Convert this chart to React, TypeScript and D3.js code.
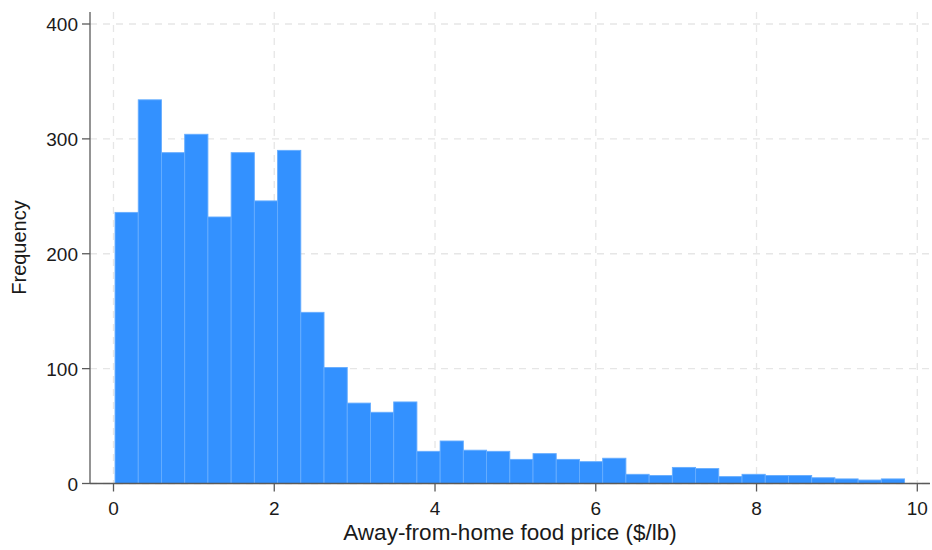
import React from "react";
import * as d3 from "d3";

const counts: number[] = [
  236, 334, 288, 304, 232, 288, 246, 290, 149, 101, 70, 62, 71, 28, 37, 29, 28,
  21, 26, 21, 19, 22, 8, 7, 14, 13, 6, 8, 7, 7, 5, 4, 3, 4,
];
const binStart = 0.019;
const binWidth = 0.2889;
const xTicks: number[] = [0, 2, 4, 6, 8, 10];
const yTicks: number[] = [0, 100, 200, 300, 400];
const xTitle = "Away-from-home food price ($/lb)";
const yTitle = "Frequency";

const W = 932;
const H = 550;
const FONT = "'Liberation Sans', Arial, sans-serif";

export default function App() {
  const x = d3.scaleLinear().domain([0, 10]).range([113.5, 917.3]);
  const y = d3.scaleLinear().domain([0, 400]).range([483.5, 24]);
  const axisX0 = 90;
  const axisColor = "#5a5a5a";
  const bins = counts.map((c, i) => ({
    x0: binStart + i * binWidth,
    x1: binStart + (i + 1) * binWidth,
    c,
  }));
  return (
    <svg
      width={W}
      height={H}
      style={{ position: "absolute", left: 0, top: 0, background: "#fff" }}
      fontFamily={FONT}
    >
      {/* grid */}
      {xTicks.map((t) => (
        <line
          key={"gx" + t}
          x1={x(t)}
          x2={x(t)}
          y1={12}
          y2={483.5}
          stroke="#e6e6e6"
          strokeWidth={1.3}
          strokeDasharray="7,6"
        />
      ))}
      {yTicks.map((t) => (
        <line
          key={"gy" + t}
          x1={axisX0}
          x2={930}
          y1={y(t)}
          y2={y(t)}
          stroke="#e6e6e6"
          strokeWidth={1.3}
          strokeDasharray="7,6"
        />
      ))}
      {/* bars */}
      {bins.map((b, i) => (
        <rect
          key={i}
          x={x(b.x0)}
          y={y(b.c)}
          width={x(b.x1) - x(b.x0)}
          height={y(0) - y(b.c)}
          fill="#3391ff"
          stroke="#66adff"
          strokeWidth={0.9}
        />
      ))}
      {/* axes */}
      <line x1={axisX0} x2={axisX0} y1={12} y2={484} stroke={axisColor} strokeWidth={1.3} />
      <line x1={axisX0} x2={930} y1={483.5} y2={483.5} stroke={axisColor} strokeWidth={1.3} />
      {yTicks.map((t) => (
        <g key={"ty" + t}>
          <line x1={82} x2={axisX0} y1={y(t)} y2={y(t)} stroke={axisColor} strokeWidth={1.3} />
          <text
            x={78}
            y={y(t) + 7}
            textAnchor="end"
            fontSize={19}
            fill="#1a1a1a"
          >
            {t}
          </text>
        </g>
      ))}
      {xTicks.map((t) => (
        <g key={"tx" + t}>
          <line x1={x(t)} x2={x(t)} y1={483.5} y2={491.5} stroke={axisColor} strokeWidth={1.3} />
          <text
            x={x(t)}
            y={515}
            textAnchor="middle"
            fontSize={19}
            fill="#1a1a1a"
          >
            {t}
          </text>
        </g>
      ))}
      <text
        x={510}
        y={540}
        textAnchor="middle"
        fontSize={22.5}
        fill="#1a1a1a"
      >
        {xTitle}
      </text>
      <text
        transform={`translate(19,247.5) rotate(-90)`}
        textAnchor="middle"
        dominantBaseline="central"
        fontSize={20}
        fill="#1a1a1a"
      >
        {yTitle}
      </text>
    </svg>
  );
}
